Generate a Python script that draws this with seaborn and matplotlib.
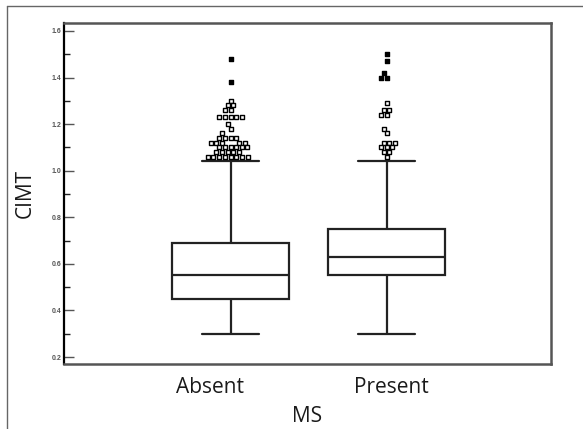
import numpy as np
import pandas as pd
import seaborn as sns
from matplotlib import pyplot as plt
from matplotlib.lines import Line2D
from matplotlib.ticker import MultipleLocator
from matplotlib.transforms import ScaledTranslation

# box summaries
groups = ["Absent", "Present"]
whisker_low = [0.30, 0.30]
q1 = [0.45, 0.55]
median = [0.55, 0.63]
q3 = [0.69, 0.75]
whisker_high = [1.04, 1.04]

# outliers (open squares) and extremes (filled squares)
absent_outliers = [1.30, 1.28, 1.28, 1.26, 1.26, 1.23, 1.23, 1.23, 1.23, 1.23,
                   1.20, 1.18, 1.16, 1.14, 1.14, 1.14, 1.14,
                   1.12, 1.12, 1.12, 1.12, 1.12,
                   1.10, 1.10, 1.10, 1.10, 1.10, 1.10,
                   1.08, 1.08, 1.08, 1.08, 1.08,
                   1.06, 1.06, 1.06, 1.06, 1.06, 1.06, 1.06, 1.06]
present_outliers = [1.29, 1.26, 1.26, 1.24, 1.24, 1.18, 1.16,
                    1.12, 1.12, 1.12, 1.10, 1.10, 1.10, 1.08, 1.08, 1.06]
absent_extremes = [1.48, 1.38]
present_extremes = [1.50, 1.47, 1.42, 1.40, 1.40]

# seaborn wants raw values: rebuild a sample with exactly these quartiles/whiskers
rows = []
for g, lo, a, m, b, hi in zip(groups, whisker_low, q1, median, q3, whisker_high):
    for v in [lo] + [a] * 4 + [m] * 4 + [b] * 4 + [hi]:
        rows.append({"MS": g, "CIMT": v})
df_box = pd.DataFrame(rows)

df_out = pd.DataFrame({
    "MS": ["Absent"] * len(absent_outliers) + ["Present"] * len(present_outliers),
    "CIMT": absent_outliers + present_outliers})
df_ext = pd.DataFrame({
    "MS": ["Absent"] * len(absent_extremes) + ["Present"] * len(present_extremes),
    "CIMT": absent_extremes + present_extremes})

sns.set_style("white")
plt.rcParams['font.family'] = ['Open Sans', 'DejaVu Sans']

fig = plt.figure(figsize=(5.83, 4.29), dpi=100)
ax = fig.add_axes([0.1098, 0.1515, 0.8353, 0.7949])

sns.boxplot(data=df_box, x="MS", y="CIMT", order=groups, width=0.75, color="white",
            linecolor="#222222", linewidth=1.6, showfliers=False, capwidths=0.37, ax=ax)
sns.swarmplot(data=df_out, x="MS", y="CIMT", order=groups, marker="s", size=2.9,
              color="white", edgecolor="black", linewidth=1.0, ax=ax)
sns.swarmplot(data=df_ext, x="MS", y="CIMT", order=groups, marker="s", size=2.9,
              color="black", edgecolor="black", linewidth=1.0, ax=ax)

ax.set_xlim(-1.067, 2.054)
ax.set_ylim(0.17, 1.634)
ax.yaxis.set_major_locator(MultipleLocator(0.2))
ax.yaxis.set_minor_locator(MultipleLocator(0.1))
ax.tick_params(axis='y', which='major', direction='in', length=7, width=1,
               color='#555555', labelsize=5, labelcolor='#555555', pad=2, left=True)
ax.tick_params(axis='y', which='minor', direction='in', length=4, width=1,
               color='#222222', left=True)
for lab in ax.get_yticklabels():
    lab.set_fontweight('bold')
    lab.set_family('Liberation Sans')

ax.tick_params(axis='x', length=0, labelsize=15, labelcolor='#1a1a1a', pad=9.5)
# the category labels sit a little off the box centres in the original
shifts = [-21, 5]
for lab, dx in zip(ax.get_xticklabels(), shifts):
    lab.set_transform(lab.get_transform() + ScaledTranslation(dx / 100, 0, fig.dpi_scale_trans))

ax.set_xlabel("MS", fontsize=15, color='#1a1a1a', labelpad=5.5)
ax.set_ylabel("CIMT", fontsize=15, color='#1a1a1a', labelpad=11)

for side in ['top', 'right', 'bottom']:
    ax.spines[side].set_color('#555555')
    ax.spines[side].set_linewidth(1.8)
ax.spines['left'].set_color('black')
ax.spines['left'].set_linewidth(1.6)

# thin frame lines on the left and top of the whole picture
fig.add_artist(Line2D([6.5 / 583, 6.5 / 583], [0, 1 - 6 / 429], transform=fig.transFigure,
                      color='#666666', lw=1))
fig.add_artist(Line2D([6.5 / 583, 1], [1 - 6 / 429, 1 - 6 / 429], transform=fig.transFigure,
                      color='#666666', lw=1))

fig.savefig("out.png", dpi=100)
